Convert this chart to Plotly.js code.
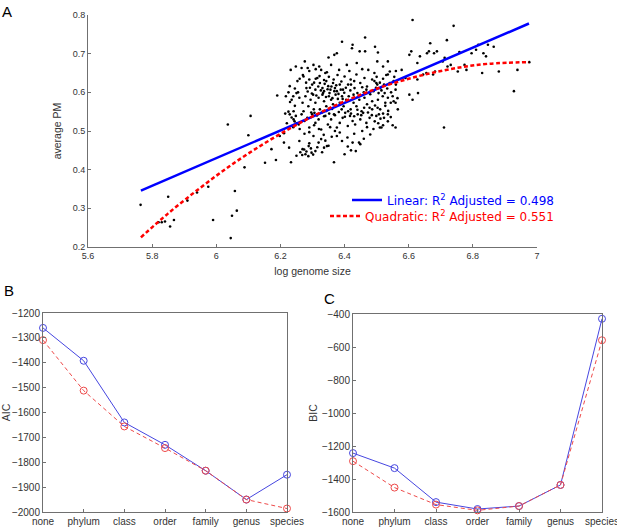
<!DOCTYPE html>
<html><head><meta charset="utf-8">
<script src="https://cdn.plot.ly/plotly-3.0.1.min.js"></script>
<style>html,body{margin:0;padding:0;background:#fff}#chart{width:617px;height:529px}</style>
</head><body><div id="chart"></div>
<script>
// Panel A: scatter of log genome size vs average PM
const genomeSize = [
5.764,5.85,5.82,5.83,5.84,5.856,5.868,5.91,5.94,5.975,5.99,6.036,6.045,6.049,6.058,6.064,6.088,6.10,6.107,6.152,6.172,6.186,6.19,6.198,6.211,6.211,6.227,6.233,
6.392,6.425,6.423,6.464,6.495,6.376,6.368,6.447,6.464,6.504,
6.276,6.266,6.285,6.303,6.321,6.327,6.34,6.358,6.383,6.407,6.438,6.474,6.493,6.502,6.535,6.541,6.232,6.248,6.578,6.29,6.31,6.35,6.345,6.415,6.455,6.52,6.56,6.27,
6.229,6.253,6.272,6.281,6.29,6.299,6.309,6.315,6.323,6.331,6.336,6.343,6.349,6.356,6.364,6.37,6.376,6.385,6.395,6.40,6.411,6.419,6.431,6.437,6.449,6.462,6.468,6.486,6.493,6.499,6.502,6.511,6.523,6.535,6.541,6.553,6.559,6.59,
6.217,6.235,6.25,6.259,6.269,6.278,6.287,6.294,6.302,6.309,6.319,6.323,6.331,6.336,6.343,6.351,6.358,6.364,6.372,6.379,6.385,6.392,6.397,6.405,6.413,6.419,6.428,6.437,6.446,6.453,6.462,6.47,6.478,6.486,6.495,6.504,6.511,6.519,6.527,6.535,6.544,6.553,6.612,6.629,6.241,6.272,6.306,
6.229,6.241,6.248,6.257,6.266,6.275,6.284,6.29,6.299,6.309,6.319,6.327,6.34,6.348,6.358,6.367,6.376,6.385,6.394,6.402,6.41,6.417,6.425,6.433,6.441,6.449,6.458,6.468,6.478,6.486,6.499,6.507,6.515,6.523,6.535,
6.25,6.259,6.269,6.278,6.288,6.297,6.303,6.309,6.319,6.327,6.336,6.345,6.367,6.376,6.385,6.392,6.40,6.409,6.425,6.435,6.449,6.48,6.51,6.559,
6.566,6.559,6.602,6.627,6.645,6.655,6.676,6.682,6.627,6.602,6.608,6.635,6.657,6.663,6.679,6.688,6.706,6.712,6.721,6.731,6.753,6.758,6.774,6.78,6.796,6.81,6.817,6.829,6.833,6.841,6.847,6.865,6.881,6.928,6.939,6.976,6.71,6.612,6.74,6.667,6.719,
6.285,6.292,6.298,6.305,6.312,6.318,6.326,6.333,6.338,6.342,6.347,6.353,6.359,6.362,6.368,6.374,6.381,6.388,6.394,6.399,6.404,6.31,6.322,6.336,6.351,6.366,6.378,6.39,6.296,6.304,6.314,6.329,6.336,6.343,6.352,6.361,6.37,6.382,6.391,6.401,6.411,6.42,6.43,6.44,6.452,6.461,6.473,6.485,6.494,6.503,6.512,6.52,6.527,6.536,6.544,6.48,6.49,6.498,6.506,6.515,6.525,6.533,6.47,6.46,6.455,6.44,6.428,6.418,6.42,6.43,
6.262,6.268,6.274,6.281,6.287,6.29,6.295,6.302,6.315,6.33,6.34,6.35,6.36,6.37,6.355,6.335,6.32,6.305,6.29,6.275,6.26,6.25,6.24,6.22,6.215,6.225,6.235,6.244,6.41,6.42,6.43,6.445,6.46,6.455,6.47,6.49,6.505,6.52,6.535,6.55,
6.26,6.28,6.245,6.255,6.24,6.23,6.245,6.225,6.5,6.51,6.52,6.545,6.55,6.565,6.56,6.555,6.53
];
const avgPM = [
0.309,0.330,0.264,0.264,0.266,0.253,0.270,0.320,0.341,0.356,0.270,0.517,0.223,0.281,0.345,0.294,0.406,0.489,0.539,0.418,0.453,0.425,0.592,0.487,0.494,0.470,0.457,0.419,
0.731,0.723,0.714,0.742,0.718,0.701,0.697,0.706,0.706,0.703,
0.680,0.663,0.663,0.671,0.667,0.658,0.650,0.671,0.658,0.671,0.676,0.658,0.650,0.680,0.680,0.654,0.658,0.667,0.658,0.655,0.660,0.690,0.652,0.655,0.660,0.667,0.655,0.645,
0.616,0.629,0.641,0.611,0.633,0.620,0.607,0.637,0.624,0.611,0.603,0.629,0.616,0.607,0.624,0.611,0.603,0.620,0.607,0.641,0.620,0.633,0.611,0.646,0.624,0.637,0.607,0.633,0.629,0.624,0.620,0.611,0.620,0.646,0.624,0.629,0.607,0.637,
0.590,0.581,0.598,0.586,0.573,0.590,0.564,0.581,0.594,0.573,0.586,0.556,0.594,0.577,0.564,0.590,0.581,0.569,0.594,0.583,0.573,0.590,0.564,0.581,0.590,0.556,0.573,0.564,0.581,0.551,0.586,0.569,0.560,0.577,0.566,0.581,0.556,0.590,0.573,0.586,0.573,0.577,0.581,0.598,0.551,0.551,0.547,
0.543,0.530,0.539,0.517,0.543,0.526,0.534,0.509,0.543,0.521,0.530,0.504,0.539,0.517,0.530,0.543,0.509,0.521,0.534,0.547,0.513,0.539,0.526,0.517,0.543,0.530,0.547,0.521,0.534,0.556,0.539,0.543,0.509,0.534,0.543,
0.436,0.474,0.453,0.440,0.461,0.444,0.487,0.448,0.470,0.479,0.457,0.461,0.419,0.487,0.496,0.474,0.440,0.483,0.470,0.448,0.466,0.491,0.509,0.509,
0.556,0.573,0.594,0.633,0.646,0.650,0.646,0.654,0.676,0.697,0.706,0.693,0.701,0.706,0.701,0.706,0.680,0.689,0.667,0.671,0.654,0.704,0.671,0.658,0.701,0.710,0.723,0.650,0.701,0.693,0.723,0.718,0.654,0.603,0.658,0.678,0.509,0.787,0.772,0.727,0.735,
0.602,0.612,0.597,0.625,0.592,0.615,0.605,0.598,0.622,0.588,0.608,0.598,0.615,0.585,0.603,0.618,0.596,0.607,0.583,0.599,0.612,0.635,0.642,0.632,0.640,0.633,0.645,0.628,0.548,0.556,0.540,0.548,0.538,0.552,0.545,0.557,0.541,0.549,0.556,0.537,0.551,0.545,0.538,0.555,0.541,0.560,0.548,0.541,0.525,0.560,0.532,0.545,0.565,0.552,0.536,0.595,0.603,0.612,0.598,0.605,0.598,0.610,0.615,0.600,0.613,0.598,0.594,0.605,0.620,0.629,
0.445,0.438,0.452,0.447,0.435,0.468,0.455,0.439,0.458,0.445,0.475,0.462,0.485,0.500,0.510,0.490,0.505,0.515,0.497,0.493,0.505,0.520,0.510,0.520,0.545,0.550,0.535,0.525,0.460,0.450,0.493,0.470,0.480,0.500,0.510,0.505,0.520,0.515,0.525,0.515,
0.635,0.625,0.610,0.600,0.590,0.575,0.565,0.600,0.640,0.625,0.635,0.600,0.590,0.585,0.620,0.640,0.645
];
// Fitted curves
const linearX = [5.765, 6.975];
const linearY = [0.346, 0.778];
const quadX = [5.765, 5.85, 5.95, 6.05, 6.15, 6.25, 6.35, 6.45, 6.55, 6.65, 6.75, 6.85, 6.975];
const quadY = [0.225, 0.287, 0.353, 0.414, 0.468, 0.516, 0.558, 0.594, 0.623, 0.646, 0.663, 0.674, 0.678];
const linearLabel = 'Linear: R<sup>2</sup> Adjusted = 0.498';
const quadLabel = 'Quadratic: R<sup>2</sup> Adjusted = 0.551';

// Panels B and C
const levels = ['none','phylum','class','order','family','genus','species'];
const aicLinear = [-1260,-1392,-1640,-1730,-1834,-1950,-1850];
const aicQuad = [-1309,-1512,-1656,-1743,-1834,-1950,-1986];
const bicLinear = [-1243,-1334,-1540,-1582,-1564,-1436,-429];
const bicQuad = [-1292,-1452,-1555,-1590,-1564,-1436,-559];

const W = 617, H = 529;
const px = (a, b) => [a / W, b / W];
const py = (top, bottom) => [1 - bottom / H, 1 - top / H];

const blueA = '#0000ff', redA = '#ff0000';
const blueB = '#4646e0', redB = '#ee4a4a';
const axisCol = '#707070';
const fam = 'Liberation Sans, Arial, sans-serif';
const tickFont = {family: fam, size: 10, color: '#333333'};

const traces = [
  {x: genomeSize, y: avgPM, type: 'scatter', mode: 'markers', xaxis: 'x', yaxis: 'y',
   marker: {color: '#000000', size: 2.6}, showlegend: false, hoverinfo: 'skip'},
  {x: linearX, y: linearY, type: 'scatter', mode: 'lines', xaxis: 'x', yaxis: 'y',
   line: {color: blueA, width: 2.5}, name: linearLabel, legend: 'legend'},
  {x: quadX, y: quadY, type: 'scatter', mode: 'lines', xaxis: 'x', yaxis: 'y',
   line: {color: redA, width: 2.5, dash: '4px,2.5px', shape: 'spline'}, name: quadLabel, legend: 'legend2'},
  {x: levels, y: aicLinear, type: 'scatter', mode: 'lines+markers', xaxis: 'x2', yaxis: 'y2', cliponaxis: false,
   line: {color: blueB, width: 1}, marker: {symbol: 'circle-open', size: 7, color: blueB, line: {width: 1}}, showlegend: false},
  {x: levels, y: aicQuad, type: 'scatter', mode: 'lines+markers', xaxis: 'x2', yaxis: 'y2', cliponaxis: false,
   line: {color: redB, width: 1, dash: '4px,3px'}, marker: {symbol: 'circle-open', size: 7, color: redB, line: {width: 1}}, showlegend: false},
  {x: levels, y: bicLinear, type: 'scatter', mode: 'lines+markers', xaxis: 'x3', yaxis: 'y3', cliponaxis: false,
   line: {color: blueB, width: 1}, marker: {symbol: 'circle-open', size: 7, color: blueB, line: {width: 1}}, showlegend: false},
  {x: levels, y: bicQuad, type: 'scatter', mode: 'lines+markers', xaxis: 'x3', yaxis: 'y3', cliponaxis: false,
   line: {color: redB, width: 1, dash: '4px,3px'}, marker: {symbol: 'circle-open', size: 7, color: redB, line: {width: 1}}, showlegend: false}
];

const baseAxis = {showgrid: false, zeroline: false, showline: true, linecolor: axisCol, linewidth: 1,
  ticks: 'inside', ticklen: 3, tickcolor: axisCol, tickfont: tickFont, fixedrange: true};
const titleFont = {family: fam, size: 10.5, color: '#333333'};
const panelFont = {family: fam, size: 15, color: '#000'};

const layout = {
  width: W, height: H, margin: {l: 0, r: 0, t: 0, b: 0},
  paper_bgcolor: '#ffffff', plot_bgcolor: 'rgba(0,0,0,0)',
  xaxis: Object.assign({}, baseAxis, {domain: px(88, 537), range: [5.6, 7], dtick: 0.2, tick0: 5.6, anchor: 'y',
    tickfont: Object.assign({}, tickFont, {size: 9}), title: {text: 'log genome size', font: titleFont, standoff: 7}}),
  yaxis: Object.assign({}, baseAxis, {domain: py(15, 247), range: [0.2, 0.8], dtick: 0.1, tick0: 0.2, anchor: 'x',
    tickfont: Object.assign({}, tickFont, {size: 9}), title: {text: 'average PM', font: titleFont, standoff: 9}}),
  xaxis2: Object.assign({}, baseAxis, {domain: px(43, 287), type: 'category', range: [0, 6], anchor: 'y2', mirror: true}),
  yaxis2: Object.assign({}, baseAxis, {domain: py(313, 512), range: [-2000, -1200], dtick: 100, anchor: 'x2', mirror: true,
    title: {text: 'AIC', font: titleFont, standoff: 2}}),
  xaxis3: Object.assign({}, baseAxis, {domain: px(353, 602), type: 'category', range: [0, 6], anchor: 'y3', mirror: true}),
  yaxis3: Object.assign({}, baseAxis, {domain: py(314, 512), range: [-1600, -400], dtick: 200, anchor: 'x3', mirror: true,
    title: {text: 'BIC', font: titleFont, standoff: 2}}),
  legend: {x: 559 / W, xanchor: 'right', y: 1 - 200 / H, yanchor: 'middle', bgcolor: 'rgba(0,0,0,0)',
    font: {family: 'DejaVu Sans, Verdana, sans-serif', size: 12, color: blueA}, itemwidth: 30, borderwidth: 0},
  legend2: {x: 559 / W, xanchor: 'right', y: 1 - 216 / H, yanchor: 'middle', bgcolor: 'rgba(0,0,0,0)',
    font: {family: 'DejaVu Sans, Verdana, sans-serif', size: 12, color: redA}, itemwidth: 30, borderwidth: 0},
  annotations: [
    {text: 'A', x: 0, y: 1 - 12 / H, xref: 'paper', yref: 'paper', xanchor: 'left', yanchor: 'middle', showarrow: false, font: panelFont},
    {text: 'B', x: 2 / W, y: 1 - 290 / H, xref: 'paper', yref: 'paper', xanchor: 'left', yanchor: 'middle', showarrow: false, font: panelFont},
    {text: 'C', x: 322 / W, y: 1 - 298 / H, xref: 'paper', yref: 'paper', xanchor: 'left', yanchor: 'middle', showarrow: false, font: panelFont}
  ]
};

Plotly.newPlot('chart', traces, layout, {staticPlot: true, displayModeBar: false});
</script>
</body></html>
